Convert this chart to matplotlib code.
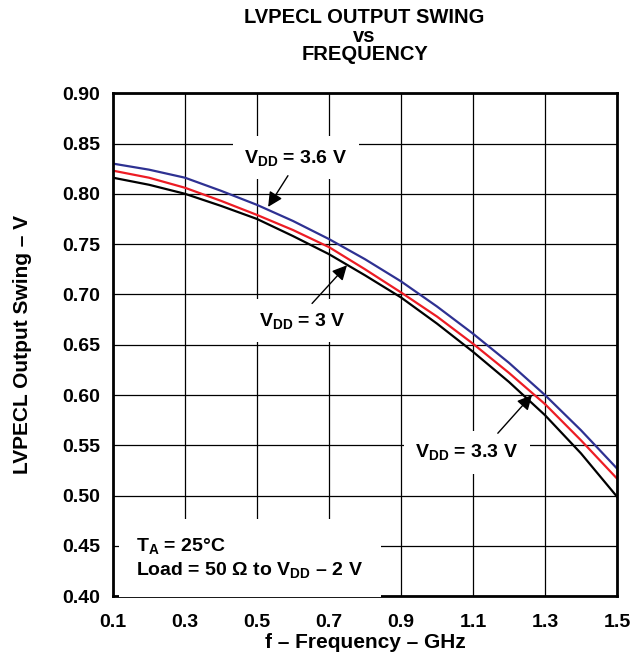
import matplotlib
matplotlib.use("Agg")
import matplotlib.pyplot as plt
import numpy as np

# Datos
freq = [0.1, 0.2, 0.3, 0.4, 0.5, 0.6, 0.7, 0.8, 0.9, 1.0, 1.1, 1.2, 1.3, 1.4, 1.5]
swing_36 = [0.830, 0.824, 0.816, 0.803, 0.789, 0.773, 0.755, 0.735, 0.713, 0.688, 0.661, 0.632, 0.600, 0.565, 0.527]
swing_33 = [0.823, 0.816, 0.806, 0.793, 0.779, 0.764, 0.747, 0.725, 0.702, 0.678, 0.651, 0.622, 0.591, 0.555, 0.517]
swing_30 = [0.816, 0.809, 0.800, 0.788, 0.775, 0.758, 0.740, 0.719, 0.697, 0.671, 0.643, 0.613, 0.580, 0.542, 0.499]

xticks = [0.1, 0.3, 0.5, 0.7, 0.9, 1.1, 1.3, 1.5]
yticks = np.arange(0.40, 0.901, 0.05)

plt.rcParams['font.family'] = ['Liberation Sans', 'DejaVu Sans']
plt.rcParams['font.weight'] = 'bold'
plt.rcParams['mathtext.fontset'] = 'custom'
plt.rcParams['mathtext.rm'] = 'Liberation Sans:bold'
plt.rcParams['mathtext.bf'] = 'Liberation Sans:bold'
plt.rcParams['mathtext.it'] = 'Liberation Sans:bold'
plt.rcParams['mathtext.default'] = 'bf'

fig = plt.figure(figsize=(6.42, 6.61), dpi=100)
ax = fig.add_axes([0.176, 0.098, 0.785, 0.761])

# Curvas
ax.plot(freq, swing_36, '-', color='#2e3192', linewidth=1.6, zorder=2)
ax.plot(freq, swing_33, '-', color='#ed1c24', linewidth=1.6, zorder=2)
ax.plot(freq, swing_30, '-', color='black', linewidth=1.6, zorder=2)

ax.set_xlim(0.1, 1.5)
ax.set_ylim(0.40, 0.90)
ax.set_xticks(xticks)
ax.set_yticks(yticks)
ax.set_xticklabels(['%.1f' % t for t in xticks])
ax.set_yticklabels(['%.2f' % t for t in yticks])
ax.tick_params(length=0, labelsize=14, pad=9)
ax.tick_params(axis='x', pad=13)
ax.grid(True, color='black', linewidth=0.9)
ax.set_axisbelow(True)
for s in ax.spines.values():
    s.set_linewidth(2.0)

ax.set_xlabel('f – Frequency – GHz', fontsize=15, fontweight='bold', labelpad=1)
ax.set_ylabel('LVPECL Output Swing – V', fontsize=15, fontweight='bold', labelpad=22)

# Titulo en tres lineas
fig.text(0.568, 0.974, 'LVPECL OUTPUT SWING', ha='center', va='center', fontsize=14.5, fontweight='bold')
fig.text(0.568, 0.945, 'vs', ha='center', va='center', fontsize=14.5, fontweight='bold')
fig.text(0.568, 0.918, 'FREQUENCY', ha='center', va='center', fontsize=14.5, fontweight='bold')

# Etiquetas con flechas
box = dict(boxstyle='square,pad=0.6', facecolor='white', edgecolor='none')
arrow = dict(arrowstyle='-|>', color='black', lw=1.0, mutation_scale=22, shrinkA=0, shrinkB=0)

ax.text(0.608, 0.836, r'V$_{DD}$ = 3.6 V', ha='center', va='center', fontsize=14,
        bbox=box, zorder=3)
ax.annotate('', xy=(0.531, 0.787), xytext=(0.586, 0.818), arrowprops=arrow, zorder=4)

ax.text(0.625, 0.674, r'V$_{DD}$ = 3 V', ha='center', va='center', fontsize=14,
        bbox=box, zorder=3)
ax.annotate('', xy=(0.75, 0.729), xytext=(0.653, 0.691), arrowprops=arrow, zorder=4)

ax.text(1.083, 0.543, r'V$_{DD}$ = 3.3 V', ha='center', va='center', fontsize=14,
        bbox=box, zorder=3)
ax.annotate('', xy=(1.264, 0.600), xytext=(1.169, 0.562), arrowprops=arrow, zorder=4)

ax.text(0.165, 0.438, 'T$_{A}$ = 25°C\nLoad = 50 Ω to V$_{DD}$ – 2 V', ha='left', va='center',
        fontsize=14, linespacing=1.25,
        bbox=dict(boxstyle='square,pad=0.9', facecolor='white', edgecolor='none'), zorder=3)

fig.savefig('out.png', dpi=100)
